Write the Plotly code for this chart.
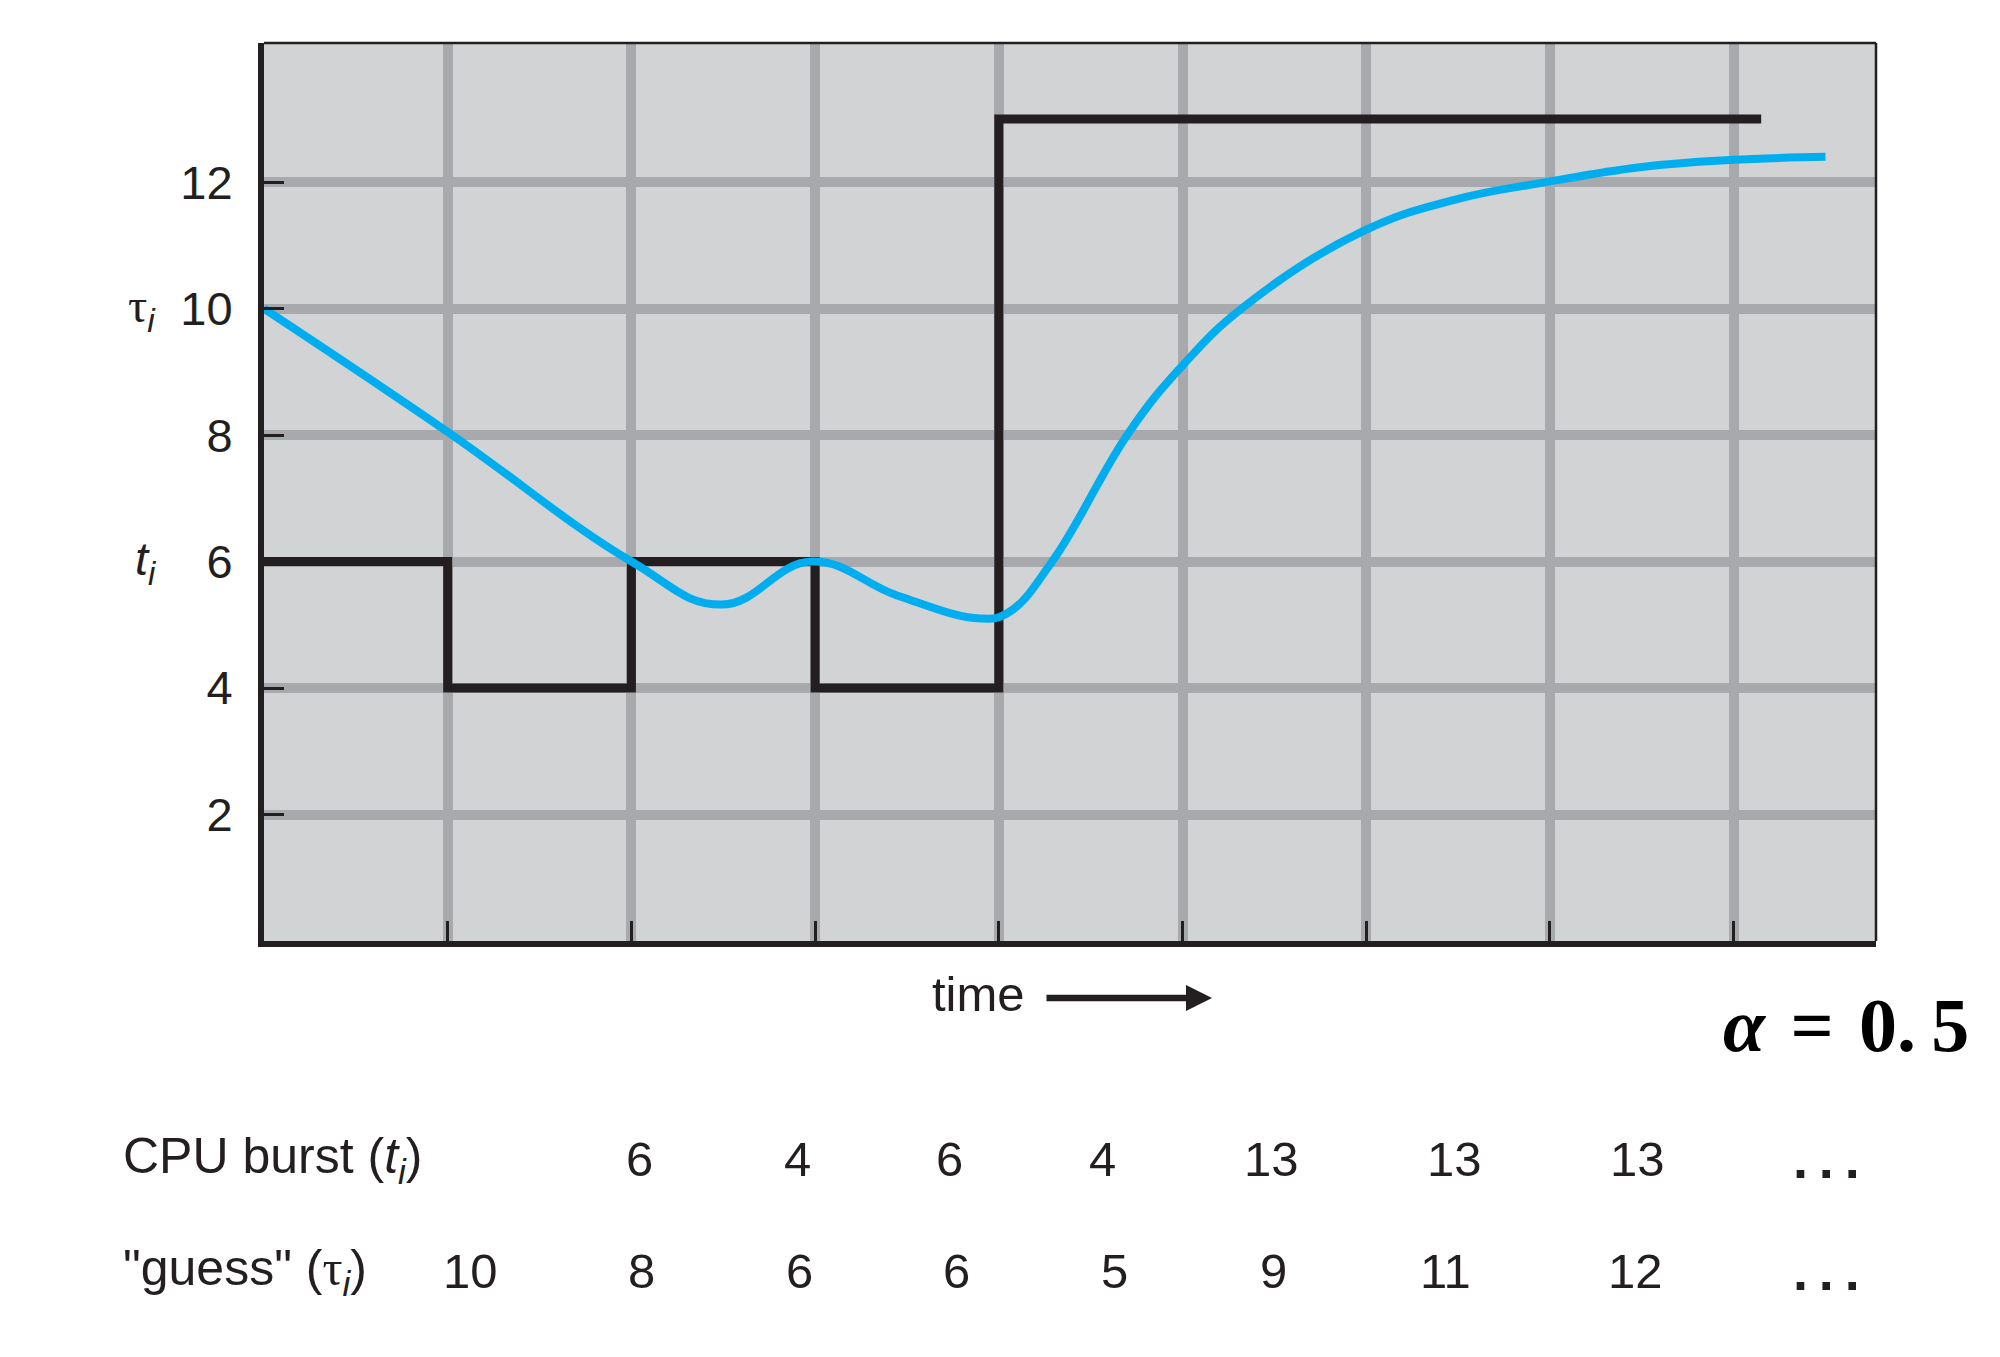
import plotly.graph_objects as go

# ---------------- data ----------------
# CPU burst step function: burst lengths starting at each time slot
step_times = [0, 1, 2, 3, 4, 8.15]
cpu_burst_levels = [6, 4, 6, 4, 13, 13]

# predicted ("guess") tau curve
guess_curve_x = [0, 1, 2, 2.49, 2.98, 3.45, 3.9, 4.05, 4.29, 4.71, 5.0, 5.33, 5.98, 6.48, 6.98, 7.5, 7.98, 8.5]
guess_curve_y = [10, 8.05, 6.0, 5.32, 6.0, 5.46, 5.10, 5.19, 6.0, 8.05, 9.1, 10.02, 11.22, 11.72, 12.0, 12.24, 12.35, 12.40]

# y tick labels
y_tick_vals = [2, 4, 6, 8, 10, 12]
y_tick_text = ["2", "4", "6", "8", "10", "12"]
x_tick_vals = [1, 2, 3, 4, 5, 6, 7, 8]

# table under the chart
cpu_burst_row = ["6", "4", "6", "4", "13", "13", "13"]
guess_row = ["10", "8", "6", "6", "5", "9", "11", "12"]
alpha_value = "0.\u20095"

# ---------------- layout constants (pixels) ----------------
W, H = 2000, 1357
L, R, T, B = 256, 1868, 35, 933
burst_col_px = [631, 789, 941, 1094, 1263, 1446, 1629]
guess_col_px = [462, 633, 791, 948, 1106, 1265, 1437, 1627]
ellipsis_px = 1818
row1_py, row2_py = 1151, 1263

def px(xp):
    return (xp - L) / (R - L)

def py(yp):
    return (B - yp) / (B - T)

INK = "#231f20"
SANS = "Liberation Sans"
SERIF = "Liberation Serif"
TAU = '<span style="font-family:Liberation Serif">τ</span>'

fig = go.Figure()
fig.add_trace(go.Scatter(
    x=step_times, y=cpu_burst_levels, mode="lines",
    line=dict(shape="hv", color=INK, width=9), hoverinfo="skip"))
fig.add_trace(go.Scatter(
    x=guess_curve_x, y=guess_curve_y, mode="lines",
    line=dict(shape="spline", smoothing=1.2, color="#00aeef", width=8), hoverinfo="skip"))

fig.update_layout(
    width=W, height=H,
    margin=dict(l=L, r=W - R, t=T, b=H - B, pad=0),
    plot_bgcolor="#d1d3d4", paper_bgcolor="white",
    showlegend=False,
    font=dict(family=SANS, color=INK),
)
fig.update_xaxes(
    range=[0, 8.775], tickvals=x_tick_vals, showticklabels=False,
    ticks="inside", ticklen=20, tickwidth=2.5, tickcolor=INK,
    showgrid=True, gridcolor="#a7a9ac", gridwidth=10,
    showline=True, linecolor=INK, linewidth=6, zeroline=False)
fig.update_yaxes(
    range=[0, 14.2], tickvals=y_tick_vals, ticktext=y_tick_text,
    ticks="inside", ticklen=20, tickwidth=3, tickcolor=INK,
    tickfont=dict(family=SANS, size=47, color=INK), ticklabelstandoff=16,
    showgrid=True, gridcolor="#a7a9ac", gridwidth=10,
    showline=True, linecolor=INK, linewidth=6, zeroline=False)

# thin top / right frame
fig.add_shape(type="line", xref="x domain", yref="y domain", x0=0, x1=1, y0=1, y1=1,
              line=dict(color=INK, width=2.5), layer="above")
fig.add_shape(type="line", xref="x domain", yref="y domain", x0=1, x1=1, y0=0, y1=1,
              line=dict(color=INK, width=2.5), layer="above")

ann = []
# axis side labels
ann.append(dict(text=TAU + "<sub><i>i</i></sub>", xref="paper", yref="y", x=px(150), y=10,
                xanchor="right", yanchor="middle", showarrow=False,
                font=dict(family=SANS, size=48, color=INK)))
ann.append(dict(text="<i>t<sub>i</sub></i>", xref="paper", yref="y", x=px(151), y=6,
                xanchor="right", yanchor="middle", showarrow=False,
                font=dict(family=SANS, size=47, color=INK)))
# time label + arrow
ann.append(dict(text="time", xref="paper", yref="paper", x=px(970), y=py(986),
                xanchor="center", yanchor="middle", showarrow=False,
                font=dict(family=SANS, size=49, color=INK)))
ann.append(dict(text="", xref="paper", yref="paper", x=px(1204), y=py(990),
                ax=-167, ay=0, showarrow=True, arrowhead=2, arrowsize=0.8,
                arrowwidth=6.5, arrowcolor=INK))
# alpha
ann.append(dict(text="<b><i>α</i>\u2004=\u2004" + alpha_value + "</b>", xref="paper", yref="paper",
                x=px(1963), y=py(1017), xanchor="right", yanchor="middle", showarrow=False,
                font=dict(family=SERIF, size=76, color="black")))
# table rows
ann.append(dict(text="CPU burst (<i>t<sub>i</sub></i>)", xref="paper", yref="paper",
                x=px(113), y=py(row1_py), xanchor="left", yanchor="middle", showarrow=False,
                font=dict(family=SANS, size=50, color=INK)))
ann.append(dict(text="\"guess\" (" + TAU + "<sub><i>i</i></sub>)", xref="paper", yref="paper",
                x=px(113), y=py(row2_py), xanchor="left", yanchor="middle", showarrow=False,
                font=dict(family=SANS, size=50, color=INK)))
for v, cx in zip(cpu_burst_row, burst_col_px):
    ann.append(dict(text=v, xref="paper", yref="paper", x=px(cx), y=py(row1_py),
                    xanchor="center", yanchor="middle", showarrow=False,
                    font=dict(family=SANS, size=49, color=INK)))
for v, cx in zip(guess_row, guess_col_px):
    ann.append(dict(text=v, xref="paper", yref="paper", x=px(cx), y=py(row2_py),
                    xanchor="center", yanchor="middle", showarrow=False,
                    font=dict(family=SANS, size=49, color=INK)))
for ry in (row1_py, row2_py):
    ann.append(dict(text="<b>.\u2009.\u2009.</b>", xref="paper", yref="paper", x=px(ellipsis_px),
                    y=py(ry), xanchor="center", yanchor="middle", showarrow=False,
                    font=dict(family=SANS, size=54, color=INK)))
fig.update_layout(annotations=ann)

fig.write_html("out.html")
